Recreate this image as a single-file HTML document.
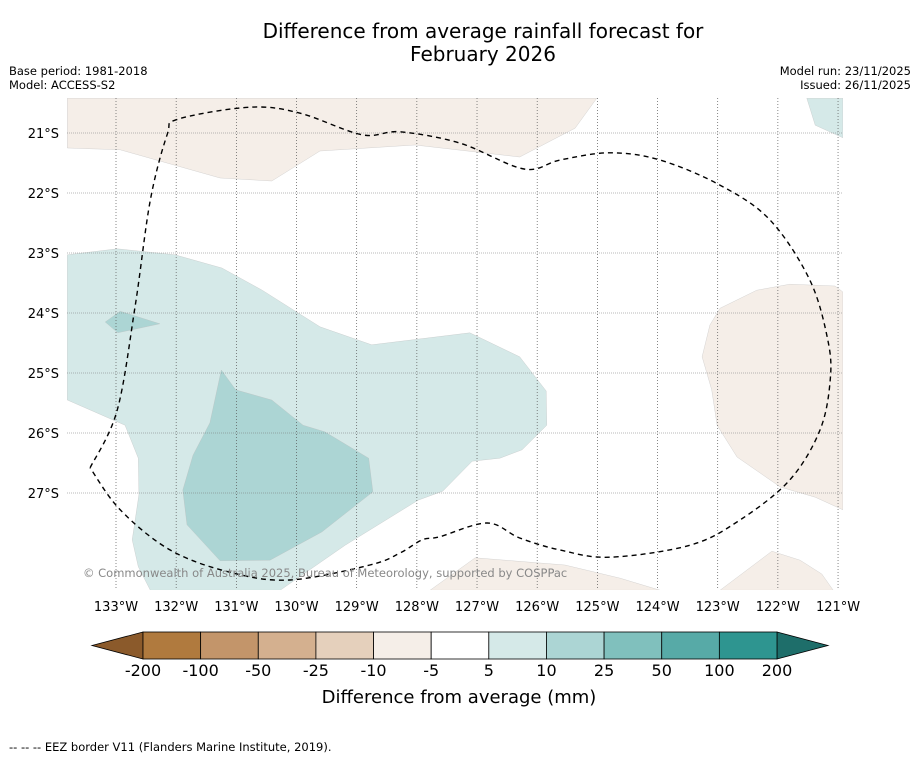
<!DOCTYPE html>
<html><head><meta charset="utf-8">
<style>
body{margin:0;background:#fff;font-family:"Liberation Sans",sans-serif;}
svg text{font-family:"DejaVu Sans","Liberation Sans",sans-serif;}
</style></head>
<body>
<svg id="chart" width="919" height="758" viewBox="0 0 919 758" xmlns="http://www.w3.org/2000/svg">
<rect width="919" height="758" fill="#fff"/>
<text x="483" y="38" font-size="20" text-anchor="middle">Difference from average rainfall forecast for</text>
<text x="483" y="61" font-size="20" text-anchor="middle">February 2026</text>
<text x="9" y="75" font-size="11.5">Base period: 1981-2018</text>
<text x="9" y="89" font-size="11.5">Model: ACCESS-S2</text>
<text x="911" y="75" font-size="11.5" text-anchor="end">Model run: 23/11/2025</text>
<text x="911" y="89" font-size="11.5" text-anchor="end">Issued: 26/11/2025</text>
<defs><clipPath id="mapclip"><rect x="67" y="98" width="776" height="492"/></clipPath></defs>
<g id="map" clip-path="url(#mapclip)"></g>
<g id="grid"></g>
<g id="eez"></g>
<text x="83" y="577" font-size="11.5" fill="#888">© Commonwealth of Australia 2025, Bureau of Meteorology, supported by COSPPac</text>
<g id="axes"></g>
<g id="cbar"></g>
<text x="459" y="703" font-size="18" text-anchor="middle">Difference from average (mm)</text>
<text x="9" y="751" font-size="11.5">--  --  -- EEZ border V11 (Flanders Marine Institute, 2019).</text>
</svg>
<script>
const lonTicks=[-133,-132,-131,-130,-129,-128,-127,-126,-125,-124,-123,-122,-121];
const latTicks=[-21,-22,-23,-24,-25,-26,-27];
const cbarLevels=["-200","-100","-50","-25","-10","-5","5","10","25","50","100","200"];
const cbarColors=["#b07a3e","#c3956a","#d4b08f","#e5d0bc","#f5eee8","#ffffff","#d5e9e8","#acd5d4","#80c0bd","#57aaa7","#2e9590"];
const regionTopBrown={lon:[-133.81,-132.93,-131.27,-130.41,-129.61,-128.03,-126.29,-125.37,-125.01,-133.81],lat:[-21.25,-21.28,-21.75,-21.8,-21.3,-21.2,-21.4,-20.92,-20.42,-20.42],color:"#f5eee8"};
const regionTopTeal={lon:[-121.52,-121.38,-120.92,-120.92],lat:[-20.42,-20.87,-21.08,-20.42],color:"#d5e9e8"};
const regionLightTeal={lon:[-133.81,-132.98,-132.02,-131.24,-130.57,-129.61,-128.75,-127.12,-126.29,-125.85,-125.84,-126.25,-126.62,-127.08,-127.57,-127.98,-129.19,-130.27,-132.43,-132.63,-132.73,-132.62,-132.63,-132.85,-133.81],lat:[-23.03,-22.93,-23.03,-23.25,-23.62,-24.23,-24.53,-24.33,-24.73,-25.3,-25.87,-26.28,-26.42,-26.47,-26.97,-27.12,-27.87,-28.62,-28.62,-28.23,-27.78,-27.03,-26.42,-25.87,-25.45],color:"#d5e9e8"};
const regionSmallPatch={lon:[-133.18,-132.93,-132.27,-132.97],lat:[-24.15,-23.97,-24.18,-24.33],color:"#acd5d4"};
const regionDarkTeal={lon:[-131.25,-131.01,-130.41,-129.89,-129.53,-128.8,-128.73,-129.58,-130.44,-131.27,-131.82,-131.89,-131.72,-131.44],lat:[-24.95,-25.28,-25.45,-25.87,-25.98,-26.42,-26.98,-27.65,-28.12,-28.13,-27.53,-26.95,-26.37,-25.83],color:"#acd5d4"};
const regionRightBrown={lon:[-120.92,-121.05,-121.8,-122.35,-122.96,-123.13,-123.26,-123.1,-123.01,-122.68,-121.96,-121.38,-120.92],lat:[-23.65,-23.55,-23.52,-23.62,-23.92,-24.2,-24.73,-25.28,-25.87,-26.4,-26.9,-27.07,-27.28],color:"#f5eee8"};
const regionBottomBrown={lon:[-127.78,-127.03,-125.54,-124.62,-123.96],lat:[-28.62,-28.08,-28.2,-28.42,-28.62],color:"#f5eee8"};
const regionBottomRight={lon:[-122.96,-122.1,-121.63,-121.27,-121.08],lat:[-28.62,-27.97,-28.12,-28.35,-28.62],color:"#f5eee8"};
const eezLon=[-133.43,-132.98,-132.68,-132.43,-132.15,-131.97,-130.77,-129.94,-128.91,-128.28,-127.28,-126.22,-125.62,-124.79,-123.96,-122.96,-122.13,-121.47,-121.17,-121.13,-121.3,-121.8,-122.63,-123.46,-124.79,-125.62,-126.29,-126.83,-127.62,-127.91,-128.28,-128.78,-130.11,-131.11,-132.1,-132.93,-133.43];
const eezLat=[-26.58,-25.62,-23.87,-22.12,-21.03,-20.77,-20.57,-20.67,-21.03,-20.98,-21.17,-21.6,-21.45,-21.33,-21.45,-21.87,-22.45,-23.45,-24.45,-25.12,-25.95,-26.78,-27.45,-27.87,-28.07,-27.95,-27.75,-27.5,-27.73,-27.78,-28.0,-28.2,-28.45,-28.32,-27.95,-27.28,-26.58];

const NS="http://www.w3.org/2000/svg";
const X=lon=>116+(lon+133)*60.17;
const Y=lat=>133+(-lat-21)*60;
function mk(tag,attrs,parent){const e=document.createElementNS(NS,tag);for(const k in attrs)e.setAttribute(k,attrs[k]);parent.appendChild(e);return e;}
const map=document.getElementById('map');
const regions=[["top-brown",regionTopBrown],["top-teal",regionTopTeal],["light-teal",regionLightTeal],["small-patch",regionSmallPatch],["dark-teal",regionDarkTeal],["right-brown",regionRightBrown],["bottom-brown",regionBottomBrown],["bottom-right-brown",regionBottomRight]];
regions.forEach(([n,r])=>{
  const pts=r.lon.map((l,i)=>X(l).toFixed(1)+","+Y(r.lat[i]).toFixed(1)).join(" ");
  const p=mk('polygon',{points:pts,fill:r.color,stroke:"#bbb","stroke-width":"0.3"},map);
  
  
});
const grid=document.getElementById('grid');
lonTicks.forEach(l=>{
  const ln=mk('line',{x1:X(l),x2:X(l),y1:98,y2:590,stroke:"#555","stroke-width":"0.7","stroke-dasharray":"1,2"},grid);
  
  
});
latTicks.forEach(l=>{
  const ln=mk('line',{x1:67,x2:843,y1:Y(l),y2:Y(l),stroke:"#777","stroke-width":"0.6","stroke-dasharray":"1,1"},grid);
  
  
});
const eez=document.getElementById('eez');
const P=eezLon.map((l,i)=>[X(l),Y(eezLat[i])]);
let d="M"+P[0][0].toFixed(1)+","+P[0][1].toFixed(1);
for(let i=0;i<P.length-1;i++){
  const p0=P[Math.max(0,i-1)],p1=P[i],p2=P[i+1],p3=P[Math.min(P.length-1,i+2)];
  const c1=[p1[0]+(p2[0]-p0[0])/6,p1[1]+(p2[1]-p0[1])/6];
  const c2=[p2[0]-(p3[0]-p1[0])/6,p2[1]-(p3[1]-p1[1])/6];
  d+=` C${c1[0].toFixed(1)},${c1[1].toFixed(1)} ${c2[0].toFixed(1)},${c2[1].toFixed(1)} ${p2[0].toFixed(1)},${p2[1].toFixed(1)}`;
}
const ep=mk('path',{d:d,fill:"none",stroke:"#000","stroke-width":"1.4","stroke-dasharray":"5,4"},eez);


const axes=document.getElementById('axes');
lonTicks.forEach(l=>{
  const t=mk('text',{x:X(l),y:611,"font-size":"13","text-anchor":"middle"},axes);
  t.textContent=Math.abs(l)+"°W";
  
  
});
latTicks.forEach(l=>{
  const t=mk('text',{x:59,y:Y(l)+5,"font-size":"13","text-anchor":"end"},axes);
  t.textContent=Math.abs(l)+"°S";
  
  
});
const cb=document.getElementById('cbar');
const x0=143,x1=777,y0=632,h=27,w=(x1-x0)/cbarColors.length;
const lt=mk('polygon',{points:`92,${y0+h/2} ${x0},${y0} ${x0},${y0+h}`,fill:"#8b5a2b",stroke:"#000","stroke-width":"0.8"},cb);


const rt=mk('polygon',{points:`828,${y0+h/2} ${x1},${y0} ${x1},${y0+h}`,fill:"#1e6e6a",stroke:"#000","stroke-width":"0.8"},cb);


cbarColors.forEach((c,i)=>{
  const r=mk('rect',{x:x0+i*w,y:y0,width:w,height:h,fill:c,stroke:"#000","stroke-width":"0.8"},cb);
  
  
});
cbarLevels.forEach((s,i)=>{
  const t=mk('text',{x:x0+i*w,y:676,"font-size":"16","text-anchor":"middle"},cb);
  t.textContent=s;
  
  
});
</script>
</body></html>
